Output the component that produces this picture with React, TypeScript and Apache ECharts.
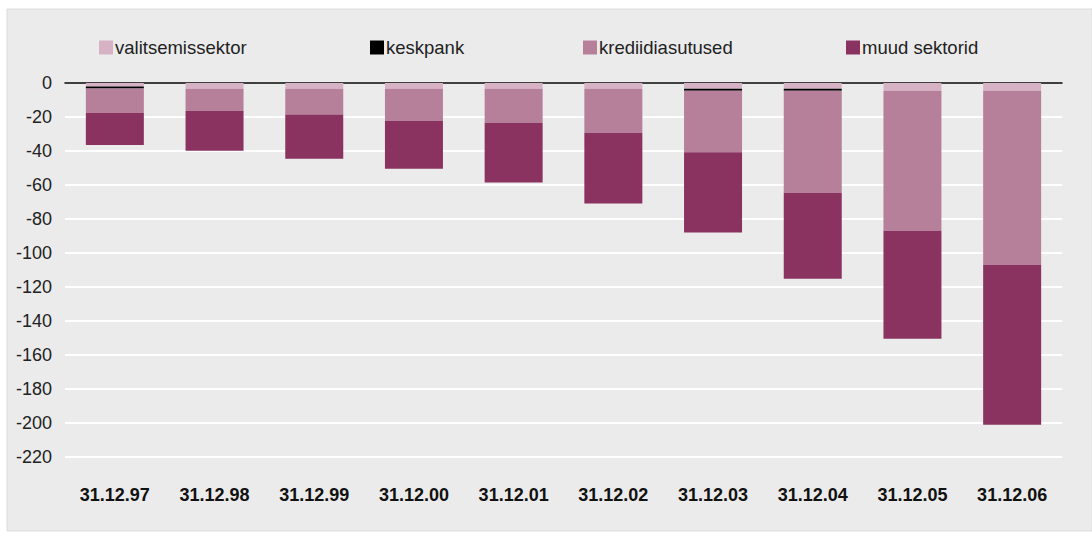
import React, { useEffect, useRef } from "react";
import * as echarts from "echarts";

const categories = ["31.12.97", "31.12.98", "31.12.99", "31.12.00", "31.12.01", "31.12.02", "31.12.03", "31.12.04", "31.12.05", "31.12.06"];
const valitsemissektor = [-2.0, -3.4, -3.4, -3.4, -3.4, -3.4, -3.4, -3.4, -4.5, -4.5];
const keskpank = [-1.2, 0, 0, 0, 0, 0, -1.1, -1.1, 0, 0];
const krediidiasutused = [-14.4, -12.9, -15.2, -18.8, -20.0, -25.8, -36.3, -60.0, -82.4, -102.4];
const muudSektorid = [-18.8, -23.5, -25.9, -28.2, -35.2, -41.7, -47.2, -50.6, -63.5, -94.1];

const seriesNames = ["valitsemissektor", "keskpank", "krediidiasutused", "muud sektorid"];
const seriesColors = ["#d7b2c5", "#000000", "#b6809b", "#8b3360"];
const seriesData = [valitsemissektor, keskpank, krediidiasutused, muudSektorid];
const legendLefts = [99, 370, 583, 846];

const FONT = "'Liberation Sans', Arial, Helvetica, sans-serif";

export default function App() {
  const ref = useRef<HTMLDivElement>(null);
  useEffect(() => {
    document.body.style.margin = "0";
    if (!ref.current) return;
    const chart = echarts.init(ref.current, null, { renderer: "svg" });
    chart.setOption({
      animation: false,
      backgroundColor: "#ffffff",
      graphic: [
        {
          type: "rect",
          z: -10,
          silent: true,
          shape: { x: 7, y: 9, width: 1085, height: 522 },
          style: { fill: "#ebebeb", stroke: "#dcdcdc", lineWidth: 1 },
        },
      ],
      legend: seriesNames.map((n, i) => ({
        data: [n],
        left: legendLefts[i],
        top: 38,
        itemWidth: 14,
        itemHeight: 14,
        icon: "rect",
        padding: 0,
        textStyle: { fontFamily: FONT, fontSize: 18.5, color: "#222222", padding: [0, 0, 0, -3] },
      })),
      grid: { left: 65, right: 30, top: 83, height: 374, containLabel: false },
      xAxis: {
        type: "category",
        data: categories,
        axisLine: { show: true, onZero: true, lineStyle: { color: "#000000", width: 1.5 } },
        axisTick: { show: false },
        axisLabel: {
          fontFamily: FONT,
          fontSize: 18,
          fontWeight: "bold",
          color: "#111111",
          margin: 29,
        },
        position: "bottom",
      },
      yAxis: {
        type: "value",
        min: -220,
        max: 0,
        interval: 20,
        axisLine: { show: false },
        axisTick: { show: false },
        splitLine: { show: true, lineStyle: { color: "#ffffff", width: 2 } },
        axisLabel: { fontFamily: FONT, fontSize: 18, color: "#222222", margin: 13 },
      },
      series: seriesNames.map((n, i) => ({
        name: n,
        type: "bar",
        stack: "total",
        barWidth: 58,
        data: seriesData[i],
        itemStyle: { color: seriesColors[i] },
      })),
    });
    return () => chart.dispose();
  }, []);
  return <div ref={ref} style={{ width: 1092, height: 533 }} />;
}
